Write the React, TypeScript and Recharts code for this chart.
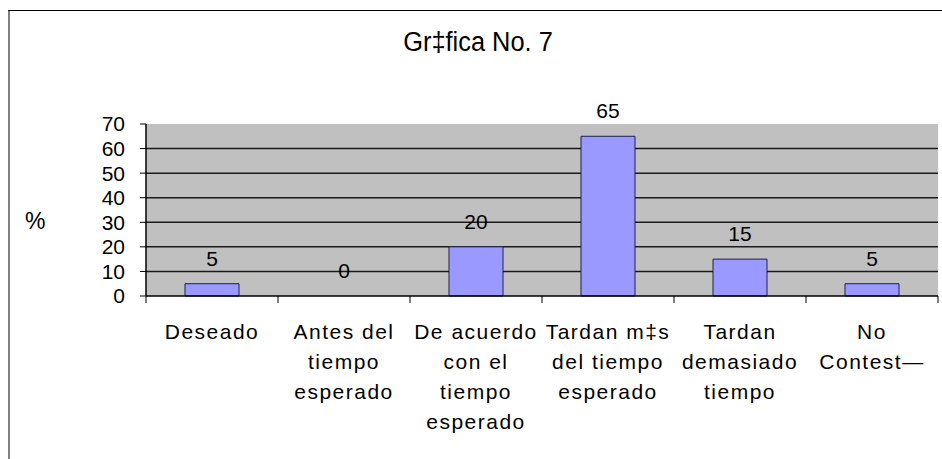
import React from "react";
import { Bar, CartesianGrid, ComposedChart, LabelList, Line, XAxis, YAxis } from "recharts";

// Data read from "Gráfica No. 7" (labels keep the original mis-encoded characters)
const categories = [
	"Deseado",
	"Antes del\ntiempo\nesperado",
	"De acuerdo\ncon el\ntiempo\nesperado",
	"Tardan m‡s\ndel tiempo\nesperado",
	"Tardan\ndemasiado\ntiempo",
	"No\nContest—",
];
const percentages = [5, 0, 20, 65, 15, 5];
const yTicks = [0, 10, 20, 30, 40, 50, 60, 70];
const gridValues = [10, 20, 30, 40, 50, 60];

const chartTitle = "Gr‡fica No. 7";
const yAxisTitle = "%";

const FONT = "'Liberation Sans', Arial, sans-serif";

if (typeof document !== "undefined") {
	document.body.style.margin = "0";
}

const data = categories.map((name, i) => ({ name, value: percentages[i] }));

/**
 * Category tick: multi-line label plus tick marks on the band boundaries
 * (Excel style), worked out from the axis width and the tick count.
 */
const CategoryTick = (tickProps: any): React.ReactElement => {
	const { x, y, payload, index, width, visibleTicksCount } = tickProps;
	const lines: string[] = String(payload.value).split("\n");
	const half = width / visibleTicksCount / 2;
	return (
		<g>
			<line x1={x - half} x2={x - half} y1={y} y2={y + 7} stroke="#000" />
			{index === visibleTicksCount - 1 && (
				<line x1={x + half} x2={x + half} y1={y} y2={y + 7} stroke="#000" />
			)}
			<text
				x={x}
				y={y}
				textAnchor="middle"
				fill="#000"
				fontSize={21}
				fontFamily={FONT}
				letterSpacing={1.5}
			>
				{lines.map((line, i) => (
					<tspan key={i} x={x} dy={i === 0 ? 43 : 30}>
						{line}
					</tspan>
				))}
			</text>
		</g>
	);
};

export default function App(): React.ReactElement {
	return (
		<div style={{ position: "relative", width: 942, height: 459, fontFamily: FONT }}>
			{/* frame of the chart area: grey left edge, black top edge */}
			<div
				style={{
					position: "absolute",
					left: 8,
					top: 10,
					width: 2,
					height: 449,
					background: "#808080",
				}}
			/>
			<div
				style={{
					position: "absolute",
					left: 8,
					top: 10,
					width: 934,
					height: 1,
					background: "#000",
				}}
			/>
			<div
				style={{
					position: "absolute",
					left: 0,
					width: 956,
					top: 27,
					textAlign: "center",
					fontSize: 27,
					lineHeight: "30px",
					color: "#000",
					transform: "scaleX(0.94)",
				}}
			>
				{chartTitle}
			</div>
			<div
				style={{
					position: "absolute",
					left: 25,
					top: 207,
					fontSize: 23,
					lineHeight: "28px",
					color: "#000",
				}}
			>
				{yAxisTitle}
			</div>
			<div style={{ position: "absolute", left: 0, top: 0 }}>
				<ComposedChart
					width={942}
					height={459}
					data={data}
					margin={{ top: 124, right: 4, left: 86, bottom: 23 }}
					barCategoryGap={0}
				>
					<CartesianGrid
						fill="#C0C0C0"
						fillOpacity={1}
						vertical={false}
						horizontalValues={gridValues}
						stroke="#1a1a1a"
						strokeWidth={1.5}
					/>
					<XAxis
						dataKey="name"
						interval={0}
						tick={<CategoryTick />}
						tickLine={false}
						tickSize={0}
						tickMargin={0}
						axisLine={{ stroke: "#000", strokeWidth: 1.5 }}
						height={140}
					/>
					<XAxis
						xAxisId="top"
						orientation="top"
						tick={false}
						tickLine={false}
						axisLine={{ stroke: "#8a8a8a", strokeWidth: 1.5 }}
						height={0}
					/>
					<YAxis
						domain={[0, 70]}
						ticks={yTicks}
						interval={0}
						width={60}
						tickSize={6}
						tickMargin={15}
						tick={{ fill: "#000", fontSize: 21, fontFamily: FONT }}
						tickLine={{ stroke: "#000" }}
						axisLine={{ stroke: "#000", strokeWidth: 1.5 }}
					/>
					<YAxis
						yAxisId="right"
						orientation="right"
						width={0}
						tick={false}
						tickLine={false}
						axisLine={{ stroke: "#8a8a8a", strokeWidth: 2 }}
					/>
					<Bar
						dataKey="value"
						fill="#9999FF"
						stroke="#1f1f4f"
						strokeWidth={1}
						barSize={54}
						isAnimationActive={false}
					/>
					{/* invisible line only carries the value labels, so the 0 shows too */}
					<Line
						dataKey="value"
						stroke="none"
						dot={false}
						activeDot={false}
						legendType="none"
						isAnimationActive={false}
					>
						<LabelList
							dataKey="value"
							position="top"
							offset={18}
							fill="#000"
							fontSize={21}
							fontFamily={FONT}
						/>
					</Line>
				</ComposedChart>
			</div>
		</div>
	);
}
